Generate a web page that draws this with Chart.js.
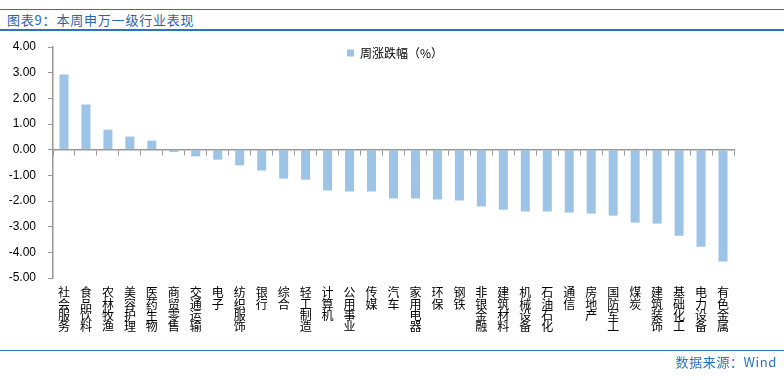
<!DOCTYPE html>
<html>
<head>
<meta charset="utf-8">
<script src="https://cdn.jsdelivr.net/npm/chart.js@4.4.1/dist/chart.umd.min.js"></script>
<style>
  html, body { margin: 0; padding: 0; background: #fff; }
  #wrap { position: relative; width: 784px; height: 380px; overflow: hidden; }
  #title { position: absolute; left: 0; top: 9px; width: 784px; height: 19px; border-top: 1.5px solid #2a72c2; border-bottom: 2px solid #2a72c2; }
  #title span { position: absolute; left: 7px; top: 1px; font-family: "Noto Sans CJK SC"; font-size: 13px; color: #2a64b0; letter-spacing: 0.8px; line-height: 17px; }
  #bottomline { position: absolute; left: 0; top: 350px; width: 784px; height: 0; border-top: 1.5px solid #2a72c2; }
  #source { position: absolute; right: 7px; top: 353px; font-family: "Noto Sans CJK SC"; font-size: 13px; color: #2a72c2; letter-spacing: 0.6px; line-height: 17px; }
  #cv { position: absolute; left: 0; top: 0; }
</style>
</head>
<body>
<div id="wrap">
  <div id="title"><span>图表9：本周申万一级行业表现</span></div>
  <canvas id="cv" width="784" height="380"></canvas>
  <div id="bottomline"></div>
  <div id="source">数据来源：Wind</div>
</div>
<script>
const categories = ['社会服务','食品饮料','农林牧渔','美容护理','医药生物','商贸零售','交通运输','电子','纺织服饰','银行','综合','轻工制造','计算机','公用事业','传媒','汽车','家用电器','环保','钢铁','非银金融','建筑材料','机械设备','石油石化','通信','房地产','国防军工','煤炭','建筑装饰','基础化工','电力设备','有色金属'];
const weeklyChange = [2.93, 1.76, 0.78, 0.51, 0.35, -0.09, -0.26, -0.39, -0.61, -0.81, -1.13, -1.17, -1.59, -1.63, -1.63, -1.90, -1.90, -1.94, -1.98, -2.21, -2.34, -2.41, -2.41, -2.45, -2.49, -2.57, -2.84, -2.88, -3.35, -3.78, -4.36];
const seriesName = '周涨跌幅（%）';
const yTicks = [4, 3, 2, 1, 0, -1, -2, -3, -4, -5];

const verticalLabels = categories.map(c => c.split(''));
const axisGray = '#999999';

// Let the legend float over the top of the plot area instead of taking layout space
const floatingLegend = {
  id: 'floatingLegend',
  afterInit(chart) {
    const lg = chart.legend;
    if (!lg) return;
    const origFit = lg.fit.bind(lg);
    lg.fit = function () { origFit(); this.height = 0; };
  },
  afterLayout(chart) {
    const lg = chart.legend;
    if (!lg) return;
    lg.left = 28;
    lg.right = 762;
    lg.width = 734;
    lg.top = 47;
    lg.height = 18;
    lg.bottom = 65;
  }
};

new Chart(document.getElementById('cv'), {
  type: 'bar',
  data: {
    labels: verticalLabels,
    datasets: [{
      label: seriesName,
      data: weeklyChange,
      backgroundColor: '#9dc3e6',
      borderWidth: 0,
      barPercentage: 0.41,
      categoryPercentage: 1.0,
      xAxisID: 'x',
      yAxisID: 'y'
    }]
  },
  plugins: [floatingLegend],
  options: {
    responsive: false,
    animation: false,
    devicePixelRatio: 1,
    layout: { padding: { left: 0, right: 50, top: 47, bottom: 0 } },
    plugins: {
      legend: {
        position: 'top',
        align: 'center',
        labels: {
          boxWidth: 7, boxHeight: 7, padding: 0,
          color: '#000',
          font: { family: '"Noto Sans CJK SC"', size: 12 }
        }
      },
      tooltip: { enabled: false },
      title: { display: false }
    },
    scales: {
      x: {
        type: 'category',
        position: 'bottom',
        grid: { display: false, drawTicks: false },
        border: { display: false },
        ticks: {
          autoSkip: false, maxRotation: 0, minRotation: 0,
          padding: 9,
          color: '#000',
          font: { family: '"Noto Sans CJK SC"', size: 12, lineHeight: '11.4px' }
        },
        afterFit: s => { s.height = 102; }
      },
      x2: {
        type: 'category',
        axis: 'x',
        position: { y: 0 },
        offset: true,
        grid: { display: true, offset: true, drawOnChartArea: false, drawTicks: true, tickLength: 5, color: axisGray, lineWidth: 1 },
        border: { display: true, color: axisGray, width: 1.5 },
        ticks: { display: false }
      },
      y: {
        position: 'left',
        min: -5, max: 4,
        afterBuildTicks: s => { s.ticks = yTicks.map(v => ({ value: v })); },
        grid: { display: true, drawOnChartArea: false, drawTicks: true, tickLength: 5, color: axisGray },
        border: { display: true, color: axisGray, width: 1.5 },
        ticks: {
          padding: 12,
          color: '#000',
          font: { family: '"Liberation Sans", Arial', size: 12 },
          callback: v => Number(v).toFixed(2)
        },
        afterFit: s => { s.width = 53; }
      }
    }
  }
});
</script>
</body>
</html>
